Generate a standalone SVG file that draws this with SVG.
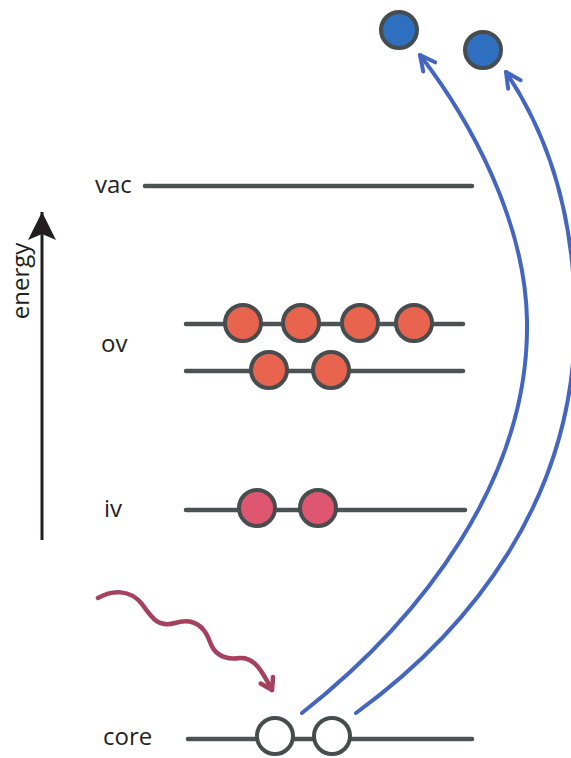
<svg xmlns="http://www.w3.org/2000/svg" width="571" height="758" viewBox="0 0 571 758">
<style>
.lvl{stroke:#4b5253;stroke-width:4.5;stroke-linecap:round;fill:none}
.el{stroke:#474d4e;stroke-width:4}
.ov{fill:#e8644f}
.iv{fill:#df5670}
.hole{fill:#ffffff}
.fr{fill:#2f6fc0}
.lbl{font-family:"Open Sans","Liberation Sans",sans-serif;font-size:24px;fill:#231f20}
.blue{stroke:#4466c0;stroke-width:4;fill:none;stroke-linecap:round}
.wave{stroke:#a5405f;stroke-width:4.5;fill:none;stroke-linecap:round;stroke-linejoin:round}
</style>
<defs>
<marker id="bh" markerUnits="userSpaceOnUse" orient="auto" markerWidth="30" markerHeight="30" refX="0" refY="0" viewBox="-20 -15 30 30" overflow="visible">
<path d="M-15,-7.5 L0,0 L-15,7.5" fill="none" stroke="#4466c0" stroke-width="4" stroke-linecap="round" stroke-linejoin="round"/>
</marker>
<marker id="kh" markerUnits="userSpaceOnUse" orient="auto" markerWidth="40" markerHeight="40" viewBox="-30 -20 40 40" refX="0" refY="0" overflow="visible">
<path d="M0,0 L-28,-14 L-22,0 L-28,14 Z" fill="#231f20"/>
</marker>
<marker id="wh" markerUnits="userSpaceOnUse" orient="auto" markerWidth="30" markerHeight="30" viewBox="-20 -15 30 30" refX="0" refY="0" overflow="visible">
<path d="M-11,-7 L0,0 L-11,7" fill="none" stroke="#a5405f" stroke-width="4.5" stroke-linecap="round" stroke-linejoin="round"/>
</marker>
</defs>

<g id="energy-axis">
<line x1="42" y1="540" x2="42" y2="212" stroke="#231f20" stroke-width="3" marker-end="url(#kh)"/>
<text class="lbl" transform="translate(29,281) rotate(-90)" text-anchor="middle">energy</text>
</g>

<g id="vac">
<text class="lbl" x="95" y="193">vac</text>
<line class="lvl" x1="145" y1="186" x2="472" y2="186"/>
</g>

<g id="ov">
<text class="lbl" x="101" y="352">ov</text>
<line class="lvl" x1="186" y1="324" x2="463" y2="324"/>
<line class="lvl" x1="186" y1="371" x2="463" y2="371"/>
<circle class="el ov" cx="243" cy="323" r="18"/>
<circle class="el ov" cx="301" cy="323" r="18"/>
<circle class="el ov" cx="360" cy="323" r="18"/>
<circle class="el ov" cx="414" cy="323" r="18"/>
<circle class="el ov" cx="269" cy="370" r="18"/>
<circle class="el ov" cx="331" cy="370" r="18"/>
</g>

<g id="iv">
<text class="lbl" x="104" y="517">iv</text>
<line class="lvl" x1="186" y1="510" x2="465" y2="510"/>
<circle class="el iv" cx="257" cy="508" r="18"/>
<circle class="el iv" cx="318" cy="508" r="18"/>
</g>

<g id="core">
<text class="lbl" x="103" y="745">core</text>
<line class="lvl" x1="188" y1="739" x2="472" y2="739"/>
<circle class="el hole" cx="275" cy="736" r="18"/>
<circle class="el hole" cx="332" cy="736" r="18"/>
</g>

<g id="photoelectrons">
<circle class="el fr" cx="399" cy="30" r="18"/>
<circle class="el fr" cx="483" cy="50" r="18"/>
</g>

<g id="connectors">
<path class="wave" d="M98,598 C112,590 130,589 142,604 C152,618 158,628 175,623 C195,617 205,628 210,642 C215,656 226,660 240,658 C255,657 263,673 272,690" marker-end="url(#wh)"/>
<path class="blue" d="M302,713 C420,620 530,480 527,320 C525,220 470,120 420,55" marker-end="url(#bh)"/>
<path class="blue" d="M356,713 C470,630 575,500 575,320 C575,210 545,130 506,72" marker-end="url(#bh)"/>
</g>
</svg>
